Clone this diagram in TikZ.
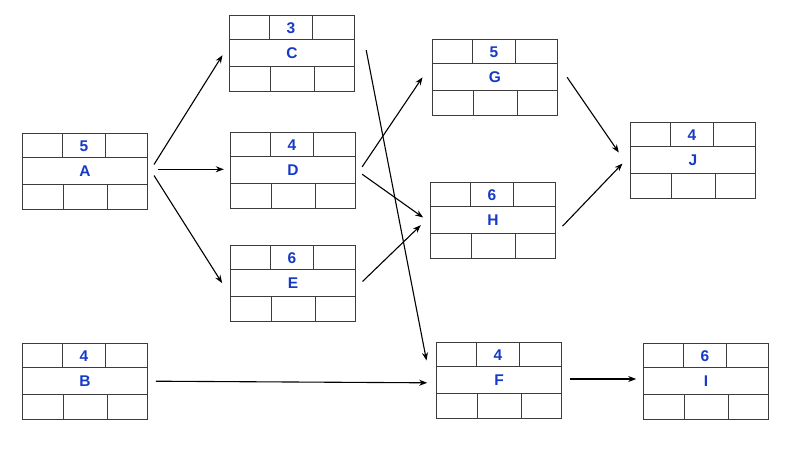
\documentclass[tikz,border=0pt]{standalone}
\usepackage{fontspec}
\setmainfont{Liberation Sans}
\usetikzlibrary{arrows.meta,calc}
\definecolor{lbl}{RGB}{22,58,200}
\definecolor{edgec}{RGB}{60,60,60}
\tikzset{
  box/.style={draw=edgec, line width=1.2pt, rectangle, minimum width=125pt, minimum height=76pt, inner sep=0pt, outer sep=0pt},
  cell/.style={draw=edgec, line width=1.2pt},
  lab/.style={inner sep=0pt, text=lbl, font=\fontsize{15.5}{18}\selectfont\bfseries},
  arr/.style={draw=black, line width=1.1pt, -{Stealth[length=8pt,width=6pt]}}
}
\newcommand\pertbox[4]{%
  \node[box] (#1) at (#2) {};
  \draw[cell] ($(#1.north west)+(0,24)$) -- ($(#1.north east)+(0,24)$);
  \draw[cell] ($(#1.north west)+(0,51)$) -- ($(#1.north east)+(0,51)$);
  \draw[cell] ($(#1.north west)+(40,0)$) -- ++(0,24);
  \draw[cell] ($(#1.north west)+(83,0)$) -- ++(0,24);
  \draw[cell] ($(#1.south west)+(41,0)$) -- ++(0,-25);
  \draw[cell] ($(#1.south west)+(85,0)$) -- ++(0,-25);
  \node[lab] at ($(#1.north west)+(61.5,12.5)$) {#3};
  \node[lab] at ($(#1.north west)+(62.5,38)$) {#4};
}
\begin{document}
\begin{tikzpicture}[x=1pt,y=-1pt]
\fill[white] (0,0) rectangle (800,450);
\useasboundingbox (0,0) rectangle (800,450);
\pertbox{A}{85,171.5}{5}{A}
\pertbox{B}{85,381.5}{4}{B}
\pertbox{C}{292,53.5}{3}{C}
\pertbox{D}{293,170.5}{4}{D}
\pertbox{E}{293,283.5}{6}{E}
\pertbox{G}{495,77.5}{5}{G}
\pertbox{H}{493,220.5}{6}{H}
\pertbox{F}{499,380.5}{4}{F}
\pertbox{I}{706,381.5}{6}{I}
\pertbox{J}{693,160.5}{4}{J}
\draw[arr] ([xshift=6.5pt,yshift=7pt]A.east) -- ([xshift=-7pt,yshift=-1.7pt]C.west);
\draw[arr] ([xshift=10.5pt,yshift=2.2pt]A.east) -- ([xshift=-6.7pt,yshift=1.2pt]D.west);
\draw[arr] ([xshift=6.5pt,yshift=-4pt]A.east) -- ([xshift=-8.4pt,yshift=0.4pt]E.west);
\draw[arr] ([xshift=6.6pt,yshift=3.6pt]D.east) -- ([xshift=-10pt,yshift=0.2pt]G.west);
\draw[arr] ([xshift=6.6pt,yshift=-3.7pt]D.east) -- ([xshift=-7.4pt,yshift=3pt]H.west);
\draw[arr] ([xshift=7pt,yshift=2pt]E.east) -- ([xshift=-9.7pt,yshift=-4.7pt]H.west);
\draw[arr] ([xshift=11.7pt,yshift=3.3pt]C.east) -- ([xshift=-10pt,yshift=-18pt]F.north west);
\draw[arr] ([xshift=8.3pt,yshift=0.3pt]B.east) -- ([xshift=-9.3pt,yshift=-2.3pt]F.west);
\draw[arr] ([xshift=8.3pt,yshift=1.5pt]F.east) -- ([xshift=-7.3pt,yshift=2.5pt]I.west);
\draw[arr] ([xshift=9.6pt,yshift=0.2pt]G.east) -- ([xshift=-11.7pt,yshift=8pt]J.west);
\draw[arr] ([xshift=7pt,yshift=-5.7pt]H.east) -- ([xshift=-8pt,yshift=-3pt]J.west);
\end{tikzpicture}
\end{document}
